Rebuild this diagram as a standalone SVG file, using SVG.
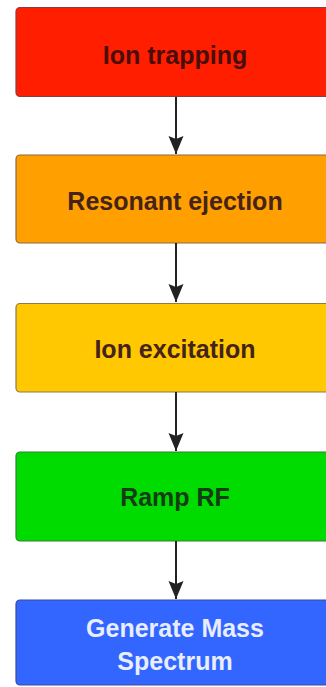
<svg xmlns="http://www.w3.org/2000/svg" width="326" height="687" viewBox="0 0 326 687">
<style>
.box{stroke-width:1.2}
.lbl{font-family:"Liberation Sans",Arial,sans-serif;font-size:25px;font-weight:bold;text-anchor:middle;fill:#45231a}
.conn line{stroke:#222;stroke-width:2}
</style>
<defs>
<marker id="ah" viewBox="0 0 18 16" refX="18" refY="8" markerWidth="18" markerHeight="16" markerUnits="userSpaceOnUse" orient="auto">
<path d="M0,0.5 L3,8 L0,15.5 L18,8 Z" fill="#222"/>
</marker>
</defs>
<rect width="326" height="687" fill="#fff"/>
<g id="n1">
<rect class="box" x="16" y="7.5" width="330" height="89" rx="4" fill="#ff1e00" stroke="#8a3c3c"/>
<text class="lbl" x="175" y="64" style="fill:#4a0e0a">Ion trapping</text>
</g>
<g id="n2">
<rect class="box" x="16" y="155" width="330" height="88" rx="4" fill="#ffa000" stroke="#8a6a40"/>
<text class="lbl" x="175" y="210">Resonant ejection</text>
</g>
<g id="n3">
<rect class="box" x="16" y="303.5" width="330" height="88.5" rx="4" fill="#ffc800" stroke="#8a7a50"/>
<text class="lbl" x="175" y="358">Ion excitation</text>
</g>
<g id="n4">
<rect class="box" x="16" y="452" width="330" height="89" rx="4" fill="#00dc00" stroke="#3a7a3a"/>
<text class="lbl" x="175" y="506" style="fill:#153d15">Ramp RF</text>
</g>
<g id="n5">
<rect class="box" x="16" y="600" width="330" height="85" rx="4" fill="#3366ff" stroke="#3a4a9a"/>
<text class="lbl" x="175" y="637" style="fill:#e8eeff">Generate Mass</text>
<text class="lbl" x="175" y="670" style="fill:#e8eeff">Spectrum</text>
</g>
<g class="conn" id="connectors">
<line x1="176" y1="97" x2="176" y2="154" marker-end="url(#ah)"/>
<line x1="176" y1="243" x2="176" y2="302" marker-end="url(#ah)"/>
<line x1="176" y1="392" x2="176" y2="451" marker-end="url(#ah)"/>
<line x1="176" y1="541" x2="176" y2="599" marker-end="url(#ah)"/>
</g>
</svg>
